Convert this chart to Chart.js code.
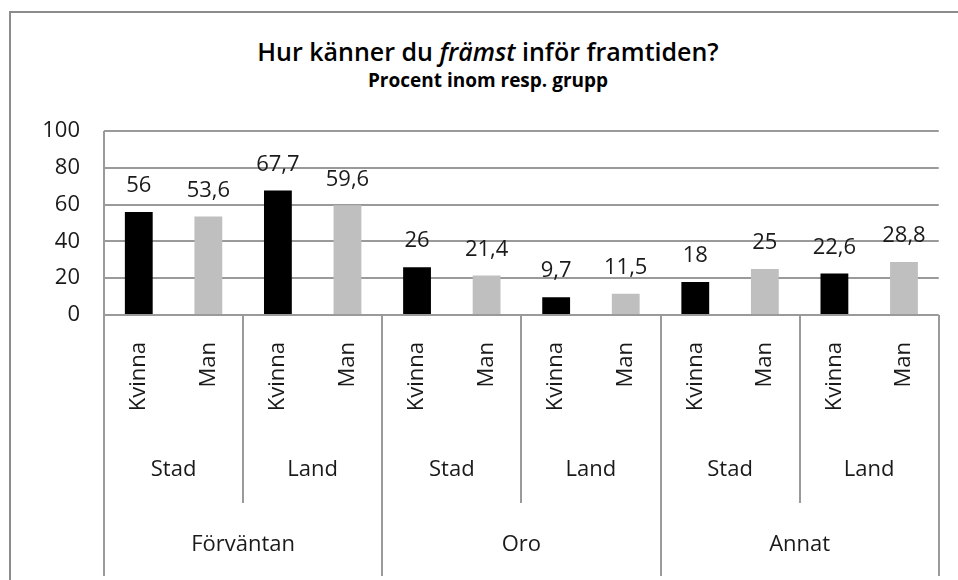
<!DOCTYPE html>
<html>
<head>
<meta charset="utf-8">
<script src="https://cdn.jsdelivr.net/npm/chart.js@4.4.1/dist/chart.umd.min.js"></script>
<style>
  body { margin: 0; background: #fff; }
  #wrap { position: relative; width: 958px; height: 580px; overflow: hidden; }
  #frame { position: absolute; left: 9px; top: 11px; width: 960px; height: 600px; border: 2px solid #8c8c8c; }
  .titel { position: absolute; left: 10px; width: 956px; text-align: center; color: #000; font-family: "Open Sans", sans-serif; }
  #t1 { top: 34px; font-size: 25px; font-weight: 600; line-height: 34px; }
  #t2 { top: 67px; font-size: 19px; font-weight: 700; line-height: 26px; }
  canvas { position: absolute; left: 0; top: 0; }
</style>
</head>
<body>
<div id="wrap">
  <div id="frame"></div>
  <div class="titel" id="t1">Hur känner du <i>främst</i> inför framtiden?</div>
  <div class="titel" id="t2">Procent inom resp. grupp</div>
  <canvas id="grafico" width="958" height="580"></canvas>
</div>
<script>
// Data
const huvudgrupper = ['Förväntan', 'Oro', 'Annat'];
const omraden = ['Stad', 'Land'];
const kon = ['Kvinna', 'Man'];
const varden = [56, 53.6, 67.7, 59.6, 26, 21.4, 9.7, 11.5, 18, 25, 22.6, 28.8];
const yTicks = [0, 20, 40, 60, 80, 100];

const farger = ['#000000', '#bfbfbf'];
const textFarg = '#1a1a1a';
const typsnitt = '"Open Sans", sans-serif';

// bygg etiketter for varje stapel
const etiketter = [];
const stapelFarger = [];
huvudgrupper.forEach(() => {
    omraden.forEach(() => {
        kon.forEach((k, i) => {
            etiketter.push(k);
            stapelFarger.push(farger[i]);
        });
    });
});

// värden ovanför staplarna
const vardeEtiketter = {
    id: 'vardeEtiketter',
    afterDatasetsDraw(chart) {
        const ctx = chart.ctx;
        const meta = chart.getDatasetMeta(0);
        ctx.save();
        ctx.font = '22px ' + typsnitt;
        ctx.fillStyle = textFarg;
        ctx.textAlign = 'center';
        ctx.textBaseline = 'middle';
        meta.data.forEach((bar, i) => {
            const txt = String(varden[i]).replace('.', ',');
            ctx.fillText(txt, bar.x, bar.y - 26);
        });
        ctx.restore();
    }
};

// flernivå-axel under staplarna
const gruppAxel = {
    id: 'gruppAxel',
    afterDraw(chart) {
        const ctx = chart.ctx;
        const x = chart.scales.x;
        const area = chart.chartArea;
        const steg = (x.right - x.left) / etiketter.length;
        ctx.save();
        ctx.strokeStyle = '#9a9a9a';
        ctx.lineWidth = 2;
        // vänster kant på ritytan
        ctx.beginPath();
        ctx.moveTo(x.left, area.top);
        ctx.lineTo(x.left, area.bottom);
        ctx.stroke();

        const antalOmr = huvudgrupper.length * omraden.length;
        for (let j = 0; j <= antalOmr; j++) {
            const px = Math.round(x.getPixelForValue(j * kon.length) - steg / 2);
            const slut = (j % omraden.length === 0) ? 576 : 503;
            ctx.beginPath();
            ctx.moveTo(px, area.bottom);
            ctx.lineTo(px, slut);
            ctx.stroke();
        }

        ctx.font = '22px ' + typsnitt;
        ctx.fillStyle = textFarg;
        ctx.textAlign = 'center';
        ctx.textBaseline = 'middle';
        for (let j = 0; j < antalOmr; j++) {
            const mitt = (x.getPixelForValue(j * 2) + x.getPixelForValue(j * 2 + 1)) / 2;
            ctx.fillText(omraden[j % omraden.length], mitt, 470);
        }
        huvudgrupper.forEach((g, h) => {
            const forst = h * omraden.length * kon.length;
            const sist = forst + omraden.length * kon.length - 1;
            const mitt = (x.getPixelForValue(forst) + x.getPixelForValue(sist)) / 2;
            ctx.fillText(g, mitt, 545);
        });
        ctx.restore();
    }
};

const ctx = document.getElementById('grafico').getContext('2d');
new Chart(ctx, {
    type: 'bar',
    data: {
        labels: etiketter,
        datasets: [{
            data: varden,
            backgroundColor: stapelFarger,
            borderWidth: 0,
            barPercentage: 0.4,
            categoryPercentage: 1.0
        }]
    },
    options: {
        responsive: false,
        animation: false,
        layout: { padding: { top: 131, right: 15, bottom: 0, left: 0 } },
        plugins: {
            legend: { display: false },
            tooltip: { enabled: false }
        },
        scales: {
            x: {
                grid: { display: false, drawTicks: false },
                border: { display: false },
                ticks: {
                    minRotation: 90,
                    maxRotation: 90,
                    padding: 27,
                    color: textFarg,
                    font: { family: typsnitt, size: 22 }
                },
                afterFit(scale) { scale.height = 265; }
            },
            y: {
                min: 0,
                max: 100,
                afterBuildTicks(scale) { scale.ticks = yTicks.map(v => ({ value: v })); },
                grid: { color: '#9a9a9a', lineWidth: 2, drawTicks: false },
                border: { display: false },
                ticks: {
                    padding: 24,
                    color: textFarg,
                    font: { family: typsnitt, size: 22 }
                },
                afterFit(scale) { scale.width = 104; }
            }
        }
    },
    plugins: [vardeEtiketter, gruppAxel]
});
</script>
</body>
</html>
